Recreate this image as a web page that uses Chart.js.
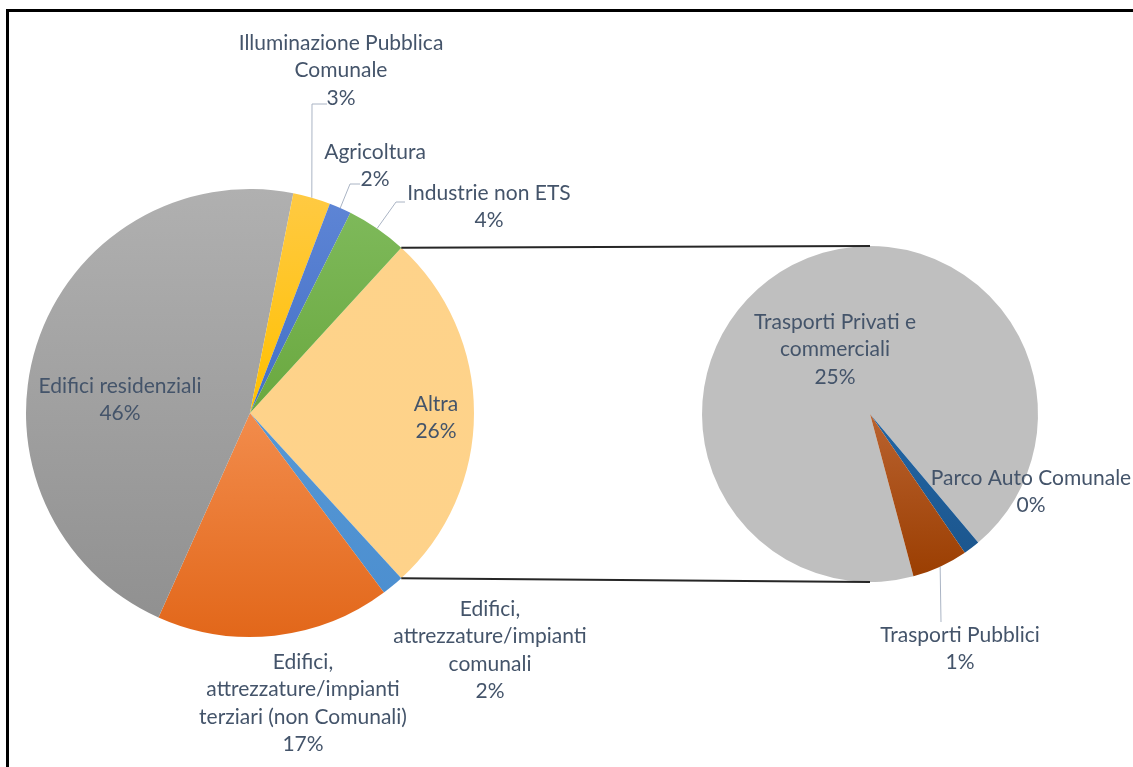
<!DOCTYPE html>
<html>
<head>
<meta charset="utf-8">
<script src="https://cdn.jsdelivr.net/npm/chart.js@4"></script>
<style>
  html, body { margin: 0; padding: 0; background: #fff; overflow: hidden; }
  #wrap { position: relative; width: 1133px; height: 767px; overflow: hidden; }
  #frame { position: absolute; left: 6px; top: 9px; width: 1300px; height: 900px; border-left: 3px solid #000; border-top: 3px solid #000; }
  #wrap canvas { position: absolute; left: 0; top: 0; }
</style>
</head>
<body>
<div id="wrap">
  <div id="frame"></div>
  <canvas id="mainPie" width="1133" height="767"></canvas>
  <canvas id="detailPie" width="1133" height="767"></canvas>
</div>
<script>
// Ripartizione dei consumi per settore (% sul totale)
const detailCategories = ['Trasporti Privati e\ncommerciali', 'Parco Auto Comunale', 'Trasporti Pubblici'];
const detailValues = [24.56, 0.42, 1.42];

const mainCategories = [
  'Altra',
  'Edifici,\nattrezzature/impianti\ncomunali',
  'Edifici,\nattrezzature/impianti\nterziari (non Comunali)',
  'Edifici residenziali',
  'Illuminazione Pubblica\nComunale',
  'Agricoltura',
  'Industrie non ETS'
];
// "Altra" is the sum of the transport sectors shown in the secondary pie
const altraValue = detailValues.reduce((a, b) => a + b, 0);
const mainValues = [altraValue, 1.6, 16.9, 46.4, 2.7, 1.6, 4.4];

const grandTotal = mainValues.reduce((a, b) => a + b, 0);
const pctText = v => Math.round(v / grandTotal * 100) + '%';

// ---- layout & style ----
const W = 1133, H = 767;
const MAIN = { cx: 250, cy: 413, r: 224 };
const DETAIL = { cx: 870, cy: 414, r: 168 };
const FONT = '21px Lato, "Open Sans", sans-serif';
const TEXT_COLOR = '#44546a';
const LINE_H = 27.5;
const LEADER_COLOR = '#aab4c4';

// vertical gradient stops per slice (top -> bottom of the pie)
const mainFills = [
  [[0, '#fed38a'], [1, '#fed28a']],
  [[0, '#62a2da'], [1, '#4a8dcf']],
  [[0.5, '#f28c4c'], [1, '#e2671a']],
  [[0, '#b0b0b0'], [1, '#8f8f8f']],
  [[0, '#ffca44'], [0.5, '#ffc000']],
  [[0, '#5f86d6'], [0.5, '#4370c6']],
  [[0, '#80bb5d'], [0.5, '#6aa83f']]
];
const detailFills = [
  [[0, '#bfbfbf'], [1, '#bfbfbf']],
  [[0.5, '#2266a5'], [1, '#1b5389']],
  [[0.5, '#b9622f'], [1, '#9a3d00']]
];

// where each label block sits (centre x, first line y) and optional leader path
const mainLabelLayout = [
  { x: 436, y: 404 },
  { x: 490, y: 609 },
  { x: 303, y: 662 },
  { x: 120, y: 386 },
  { x: 341, y: 43, leader: [[312, 104], [327, 104]] },
  { x: 375, y: 152, leader: [[350, 184], [360, 184]] },
  { x: 489, y: 193, leader: [[396, 202], [405, 202]] }
];
const detailLabelLayout = [
  { x: 835, y: 322 },
  { x: 1031, y: 478 },
  { x: 960, y: 635, leader: [[941, 622]] }
];

function paddingFor(p) {
  return { left: p.cx - p.r - 2, right: W - (p.cx + p.r + 2), top: p.cy - p.r - 2, bottom: H - (p.cy + p.r + 2) };
}

function makeFill(pie, fills) {
  const cache = {};
  return (c) => {
    const i = c.dataIndex;
    if (i === undefined) return '#ccc';
    if (!cache[i]) {
      const g = c.chart.ctx.createLinearGradient(0, pie.cy - pie.r, 0, pie.cy + pie.r);
      fills[i].forEach(([o, col]) => g.addColorStop(o, col));
      cache[i] = g;
    }
    return cache[i];
  };
}

function drawLabels(chart, categories, values, layout) {
  const ctx = chart.ctx;
  const arcs = chart.getDatasetMeta(0).data;
  ctx.save();
  ctx.font = FONT;
  ctx.fillStyle = TEXT_COLOR;
  ctx.textAlign = 'center';
  ctx.textBaseline = 'middle';
  categories.forEach((cat, i) => {
    const L = layout[i];
    const lines = cat.split('\n').concat([pctText(values[i])]);
    lines.forEach((t, k) => ctx.fillText(t, L.x, L.y + k * LINE_H));
    if (L.leader) {
      const a = arcs[i];
      const mid = (a.startAngle + a.endAngle) / 2;
      ctx.beginPath();
      ctx.moveTo(a.x + a.outerRadius * Math.cos(mid), a.y + a.outerRadius * Math.sin(mid));
      L.leader.forEach(([px, py]) => ctx.lineTo(px, py));
      ctx.strokeStyle = LEADER_COLOR;
      ctx.lineWidth = 1;
      ctx.stroke();
    }
  });
  ctx.restore();
}

const baseOptions = (pie, rotation) => ({
  responsive: false,
  animation: false,
  events: [],
  rotation: rotation,
  layout: { padding: paddingFor(pie) },
  plugins: { legend: { display: false }, tooltip: { enabled: false } }
});

const mainChart = new Chart(document.getElementById('mainPie'), {
  type: 'pie',
  data: {
    labels: mainCategories,
    datasets: [{
      data: mainValues,
      backgroundColor: makeFill(MAIN, mainFills),
      borderWidth: 0,
      radius: MAIN.r
    }]
  },
  options: baseOptions(MAIN, 90 - (mainValues[0] / grandTotal) * 180),
  plugins: [{
    id: 'mainLabels',
    afterDatasetsDraw(chart) { drawLabels(chart, mainCategories, mainValues, mainLabelLayout); }
  }]
});

new Chart(document.getElementById('detailPie'), {
  type: 'pie',
  data: {
    labels: detailCategories,
    datasets: [{
      data: detailValues,
      backgroundColor: makeFill(DETAIL, detailFills),
      borderWidth: 0,
      radius: DETAIL.r
    }]
  },
  options: baseOptions(DETAIL, 165),
  plugins: [{
    id: 'detailLabels',
    afterDatasetsDraw(chart) {
      const ctx = chart.ctx;
      // connector lines from the "Altra" slice edges to the secondary pie
      const altra = mainChart.getDatasetMeta(0).data[0];
      const d = chart.getDatasetMeta(0).data[0];
      const p1 = [altra.x + altra.outerRadius * Math.cos(altra.startAngle), altra.y + altra.outerRadius * Math.sin(altra.startAngle)];
      const p2 = [altra.x + altra.outerRadius * Math.cos(altra.endAngle), altra.y + altra.outerRadius * Math.sin(altra.endAngle)];
      ctx.save();
      ctx.strokeStyle = '#262626';
      ctx.lineWidth = 2;
      ctx.beginPath();
      ctx.moveTo(p1[0], p1[1]);
      ctx.lineTo(d.x, d.y - d.outerRadius);
      ctx.moveTo(p2[0], p2[1]);
      ctx.lineTo(d.x, d.y + d.outerRadius);
      ctx.stroke();
      ctx.restore();
      drawLabels(chart, detailCategories, detailValues, detailLabelLayout);
    }
  }]
});
</script>
</body>
</html>
